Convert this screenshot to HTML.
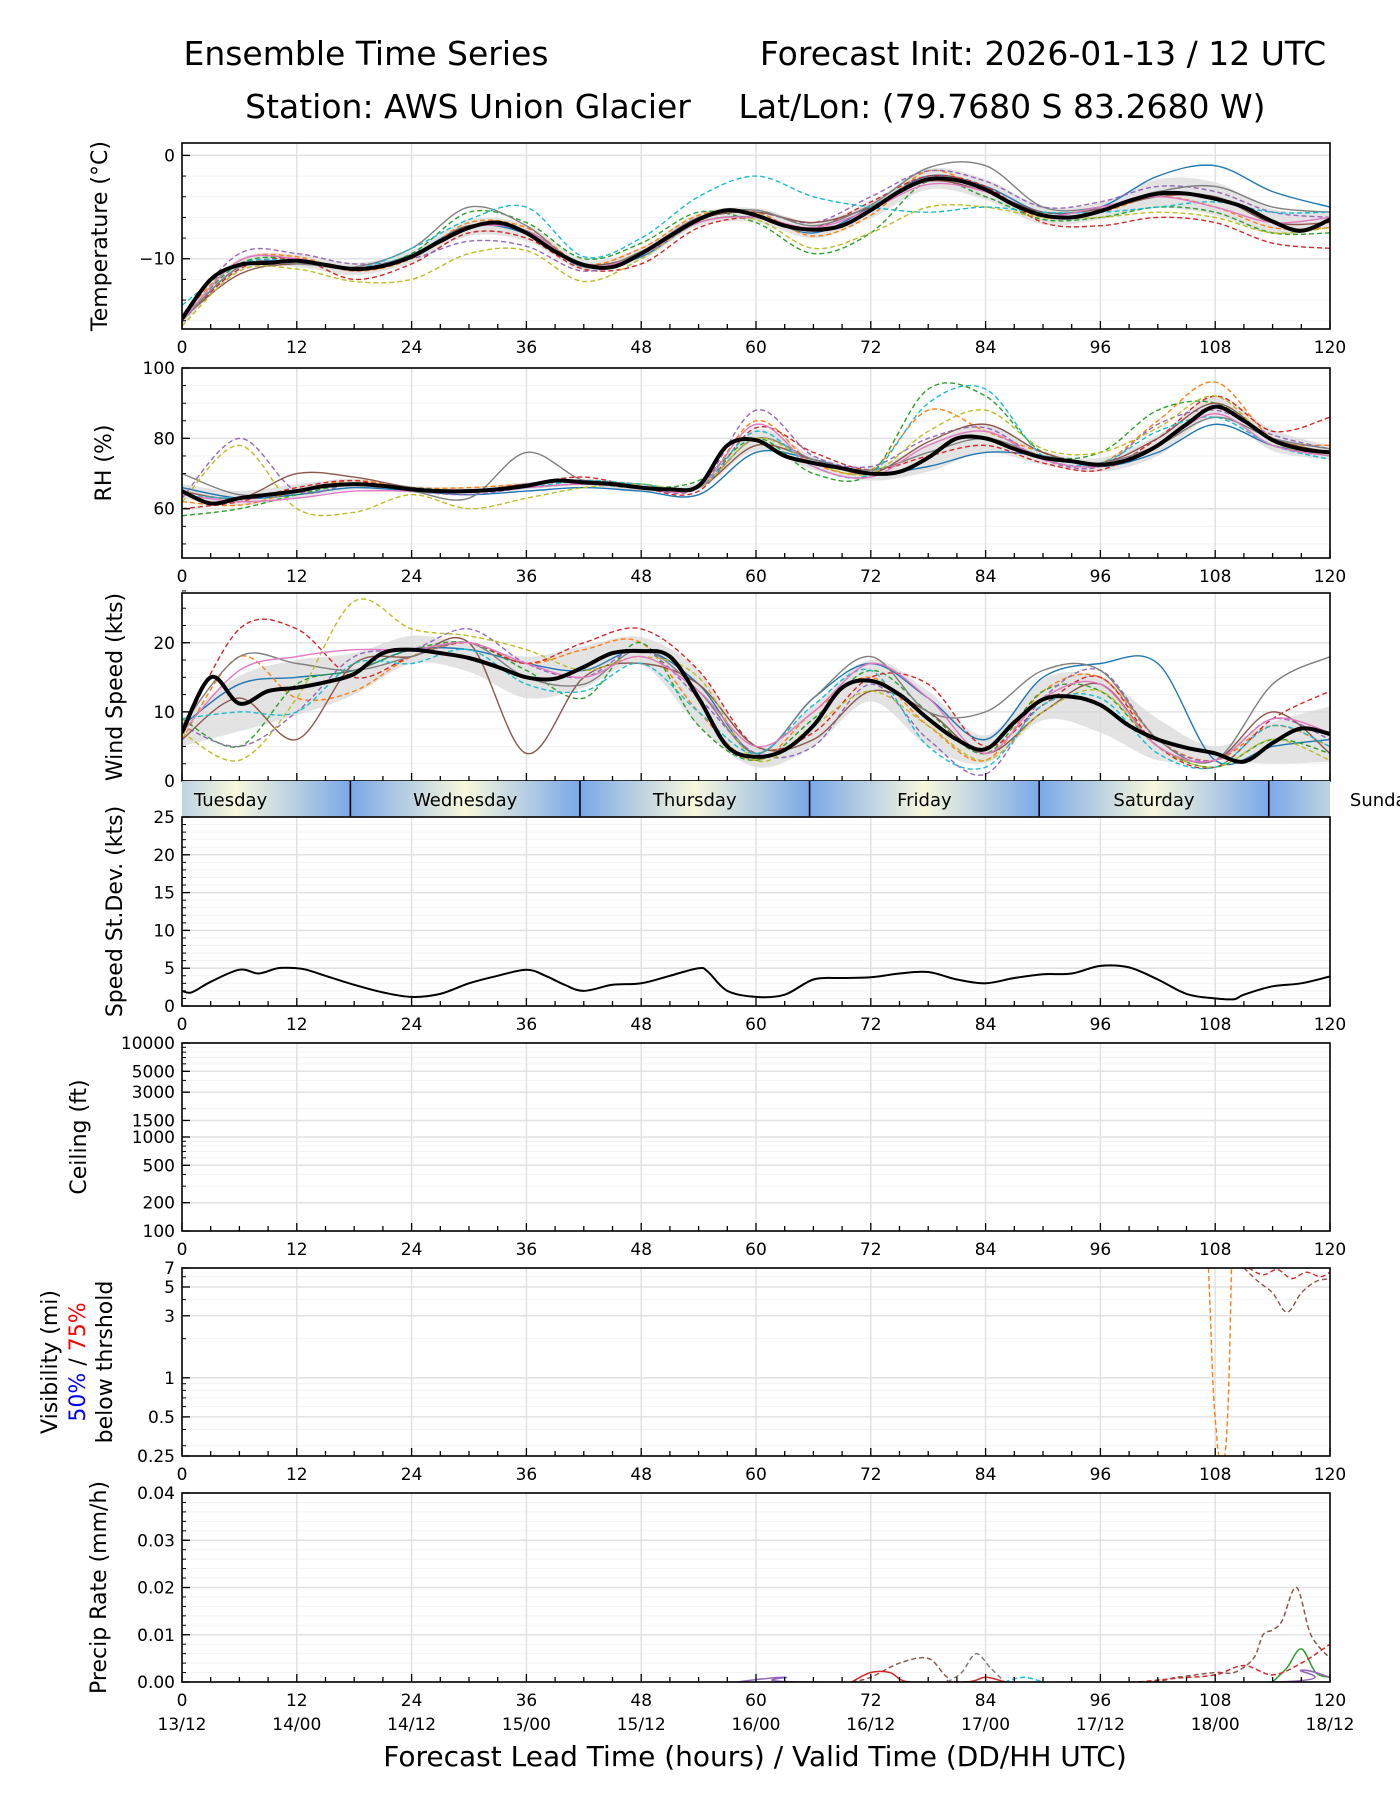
<!DOCTYPE html>
<html><head><meta charset="utf-8">
<style>
html,body{margin:0;padding:0;background:#fff;}
svg{display:block;font-family:"DejaVu Sans","Liberation Sans",sans-serif;}
</style></head>
<body>
<svg id="chart" width="1400" height="1800" viewBox="0 0 1400 1800" xmlns="http://www.w3.org/2000/svg">
<defs>
<linearGradient id="dayGrad" gradientUnits="userSpaceOnUse" x1="0" y1="0" x2="229.6" y2="0" spreadMethod="repeat">
<stop offset="0" stop-color="#f8f8dc"/>
<stop offset="0.5" stop-color="#7aa8e8"/>
<stop offset="1" stop-color="#f8f8dc"/>
</linearGradient>
</defs>
<text x="366" y="65" font-size="33" text-anchor="middle">Ensemble Time Series</text>
<text x="1043" y="65" font-size="33" text-anchor="middle">Forecast Init: 2026-01-13 / 12 UTC</text>
<text x="468" y="118" font-size="33" text-anchor="middle">Station: AWS Union Glacier</text>
<text x="1002" y="118" font-size="33" text-anchor="middle">Lat/Lon: (79.7680 S 83.2680 W)</text>
<g id="plots"></g>
<text x="755" y="1766" font-size="28" text-anchor="middle">Forecast Lead Time (hours) / Valid Time (DD/HH UTC)</text>
</svg>
<script>
const hours6 = [0,6,12,18,24,30,36,42,48,54,60,66,72,78,84,90,96,102,108,114,120];
const hours3 = [0,3,6,9,12,15,18,21,24,27,30,33,36,39,42,45,48,51,54,57,60,63,66,69,72,75,78,81,84,87,90,93,96,99,102,105,108,111,114,117,120];
const colors = ['#1f77b4','#ff7f0e','#2ca02c','#d62728','#9467bd','#8c564b','#7f7f7f','#bcbd22','#17becf','#e377c2'];
const dashed = [false,true,true,true,true,false,false,true,true,false];

const tempMean = [-15.8,-12,-10.6,-10.4,-10.2,-10.6,-11,-10.7,-9.8,-8.3,-7,-6.5,-7.5,-9.3,-10.6,-10.8,-9.5,-7.8,-6.2,-5.3,-5.8,-6.8,-7.2,-6.8,-5.3,-3.5,-2.3,-2.4,-3.3,-4.8,-5.8,-6,-5.4,-4.4,-3.7,-3.7,-4.2,-5,-6.4,-7.3,-6.2];
const tempSpread = [0.6,0.6,0.6,0.6,0.6,0.8,0.8,0.5,0.6,0.6,0.7,0.8,0.8,1.0,1.0,0.9,0.8,1.4,1.6,1.2,0.8];
const tempMembers = [
[-16,-10.8,-10.3,-11,-9.6,-6.8,-7.6,-10.8,-9.8,-6.5,-6,-7.5,-5,-2,-3,-5.5,-5,-2,-1,-3.5,-5],
[-15.5,-10.2,-9.8,-11.2,-10,-6.5,-7,-10.5,-9,-5.8,-5.5,-7.8,-5.8,-1.5,-3.5,-6,-5.5,-4,-5,-7,-7],
[-15.8,-10.5,-10,-11,-9.5,-5.5,-6.5,-10,-8.5,-5.5,-6.5,-9.5,-7.5,-2.5,-4,-6.2,-6,-5,-5.5,-7.5,-7.5],
[-16,-11,-10,-12,-10.5,-7.5,-8,-11,-10.5,-7,-6,-7,-4.5,-2,-3,-6.5,-6.8,-6,-6.5,-8.5,-9],
[-15.5,-9.5,-9.5,-10.5,-10,-8.3,-8.8,-11.2,-9.5,-6,-5.5,-6.5,-4,-1.5,-2.5,-5,-4.5,-3,-3.5,-5.5,-6],
[-15.8,-11.5,-10.5,-11,-9.8,-6.8,-7.3,-10.5,-9.5,-6.2,-5.5,-6.5,-5,-2.5,-3.5,-5.5,-5.2,-4,-4,-6.5,-6.5],
[-16,-10.8,-10.5,-10.8,-9,-5,-6.8,-10.8,-9.3,-6,-5.3,-6.8,-4.8,-1.2,-1,-5,-5,-3.5,-3,-5,-5.5],
[-16.5,-11.2,-11,-12.2,-12,-9.5,-9.2,-12.2,-10,-6.5,-6.2,-9,-7.5,-5,-5,-6,-6,-5.5,-6,-7.5,-7],
[-14.5,-10.5,-10.2,-11,-9,-6.2,-5,-9.8,-8,-4,-2,-4,-5,-5.5,-5,-5.5,-5.5,-5,-4.5,-5.5,-5.5],
[-16,-10.2,-10,-11,-9.8,-7,-7.3,-10.7,-9.6,-6.5,-6,-7,-5.2,-2.8,-3.5,-5.8,-5,-4,-5,-6.5,-6]];

const rhMean = [65,61.5,63,64,65,66.5,67,66.5,65.5,65,65,65.5,66.5,68,67.5,67,66,65.5,66.5,78,79.5,75,73,71.5,70,70.5,74.5,80,80,77,74.5,73.5,72.5,74,78,84,89,85,79.5,77,76];
const rhSpread = [2,2,2,1.5,1,1,1,1,1,1,3,2,2,4,4,2,2,3,3,3,2];
const rhMembers = [
[66,63,64,66,65,64,65,66,65,64,76,74,70,72,76,75,72,76,84,78,75],
[62,61,65,68,66,66,67,68,67,66,85,73,71,88,82,76,73,85,96,80,78],
[58,60,64,67,66,65,66,67,66,68,80,70,70,94,92,76,76,88,90,80,76],
[60,62,66,68,65,65,67,69,66,65,83,76,71,75,78,73,71,80,92,82,86],
[63,80,65,67,65,64,66,67,66,66,88,75,72,80,83,74,72,84,88,81,77],
[65,63,70,69,66,65,67,68,66,66,78,74,70,79,84,76,73,80,90,80,76],
[70,64,65,67,65,63,76,68,67,66,80,74,71,76,80,75,73,78,86,80,77],
[62,78,60,59,64,60,63,66,67,66,80,73,70,82,88,77,76,83,92,79,75],
[64,63,65,67,65,65,66,68,67,66,82,72,70,90,94,75,73,82,86,78,74],
[64,62,63,65,65,65,66,67,66,66,84,72,69,78,82,74,72,78,87,78,75]];

const windMean = [7,15,11.2,13,13.5,14.3,15.5,18.5,19,18.5,17.8,16.5,15,14.8,16.5,18.5,18.8,18,12,5,3.5,4.5,8,13.5,14.5,12.5,9,6,4.6,8.5,11.8,12.2,11,8,6,4.8,4,2.8,5.5,7.6,6.8];
const windSpread = [2,4,4,3,2,2,3,3,2,4,1.5,3,3,4,2,3,4,3,1,3,4];
const windMembers = [
[8,14,15,16,19,19,17,16,19,14,4,12,17,12,6,15,17,17,3,5,6],
[6,18,12,13,18,20,17,19,20,10,3,10,15,8,3,13,15,6,3,8,5],
[9,5,14,16,19,20,16,12,20,8,3,9,16,10,4,13,13,5,2,6,4],
[7,22,22,15,18,20,17,20,22,16,5,7,15,14,5,11,15,5,2,9,13],
[8,5,10,18,19,22,17,15,19,12,4,5,14,6,1,12,16,6,3,9,6],
[6,12,6,17,18,20,4,15,17,14,5,6,13,10,4,10,14,5,3,10,4],
[8,18,17,16,18,20,15,14,19,13,4,12,18,10,10,16,16,6,3,14,18],
[7,3,12,26,22,21,19,16,18,15,3,8,13,8,3,10,13,5,2,6,3],
[9,10,10,17,17,19,14,13,17,10,4,11,16,5,2,11,12,4,2,8,5],
[7,16,18,19,19,20,17,15,18,13,5,10,17,12,4,12,14,5,3,9,7]];

const sdHours = [0,1,3,6,8,10,12,13,15,18,21,24,27,30,33,36,38,40,42,45,48,51,54,55,57,60,63,66,69,72,75,78,81,84,87,90,93,96,99,102,105,108,110,111,114,117,120];
const sdValues = [2,1.8,3.2,4.8,4.3,5,5,4.8,4,2.8,1.8,1.2,1.6,3,4,4.8,4,2.8,2,2.8,3,4,5,4.5,2,1.2,1.5,3.5,3.7,3.8,4.3,4.5,3.5,3,3.7,4.2,4.3,5.3,5.1,3.5,1.6,1,0.9,1.5,2.6,3,3.9];

const visOrangeH = [107.3,107.5,107.8,108.1,108.4,109,109.4,109.7];
const visOrangeV = [7,3,0.8,0.4,0.25,0.25,0.8,7];
const visBrownH = [111,112.5,114,115.5,117,118.5,120];
const visBrownV = [7,5.5,4.5,3.2,4.5,5.5,5.8];
const visRedH = [111.5,113,114.5,116,117.5,119,120];
const visRedV = [7,6.2,6.8,5.8,6.5,6,6.5];

const prBrownH = [70,72,75,78,80,82,100,104,108,110,112,113,114,115,116.5,118,120];
const prBrownV = [0,0.001,0.004,0.005,0.001,0,0,0.001,0.002,0.002,0.005,0.01,0.011,0.013,0.02,0.01,0.005];
const prGrayH = [80,81.5,83,84.5,86];
const prGrayV = [0,0.002,0.006,0.003,0];
const prGreenH = [114,115.5,117,118.5,120];
const prGreenV = [0,0.003,0.007,0.002,0.001];
const prRedH = [100,104,108,111,114,117,120];
const prRedV = [0,0.0008,0.0015,0.0035,0.0015,0.004,0.008];
const prPurpleH = [58,63,66,114,117,120];
const prPurpleV = [0,0.001,0,0,0.0025,0.001];
const prRedSolidH = [70,72,74,76,82,84,86];
const prRedSolidV = [0,0.002,0.002,0,0,0.001,0];
const prCyanH = [86,88,90];
const prCyanV = [0,0.001,0];

const dayNames = ['Tuesday','Wednesday','Thursday','Friday','Saturday','Sunday'];
const dateLabels = ['13/12','14/00','14/12','15/00','15/12','16/00','16/12','17/00','17/12','18/00','18/12'];

const NS='http://www.w3.org/2000/svg';
const root=document.getElementById('plots');
const XL=182, XR=1330;
function X(h){return XL+h*(XR-XL)/120;}
function mk(tag,attrs,parent){const e=document.createElementNS(NS,tag);for(const k in attrs)e.setAttribute(k,attrs[k]);(parent||root).appendChild(e);return e;}

function linScale(lo,hi,top,bot){return v=>bot-(v-lo)/(hi-lo)*(bot-top);}
function logScale(lo,hi,top,bot){return v=>bot-(Math.log10(v)-Math.log10(lo))/(Math.log10(hi)-Math.log10(lo))*(bot-top);}

function smoothPath(hs,vs,Y){
  const p=hs.map((h,i)=>[X(h),Y(vs[i])]);
  let d='M'+p[0][0].toFixed(1)+','+p[0][1].toFixed(1);
  for(let i=0;i<p.length-1;i++){
    const p0=p[i-1]||p[i],p1=p[i],p2=p[i+1],p3=p[i+2]||p[i+1];
    const c1=[p1[0]+(p2[0]-p0[0])/6,p1[1]+(p2[1]-p0[1])/6];
    const c2=[p2[0]-(p3[0]-p1[0])/6,p2[1]-(p3[1]-p1[1])/6];
    d+=' C'+c1[0].toFixed(1)+','+c1[1].toFixed(1)+' '+c2[0].toFixed(1)+','+c2[1].toFixed(1)+' '+p2[0].toFixed(1)+','+p2[1].toFixed(1);
  }
  return d;
}

function panel(name,top,bot,Y,majors,labels,minors,ylabel,ylabX,xlabels){
  const g=mk('g',{});
  
  
  const clip=mk('clipPath',{id:'clip-'+name},g);
  mk('rect',{x:XL,y:top,width:XR-XL,height:bot-top},clip);
  minors.forEach(v=>{const y=Y(v);mk('line',{x1:XL,x2:XR,y1:y,y2:y,stroke:'#f2f2f2','stroke-width':1},g);});
  majors.forEach(v=>{const y=Y(v);mk('line',{x1:XL,x2:XR,y1:y,y2:y,stroke:'#e2e2e2','stroke-width':1.5},g);});
  for(let h=12;h<120;h+=12){mk('line',{x1:X(h),x2:X(h),y1:top,y2:bot,stroke:'#e2e2e2','stroke-width':1.5},g);}
  const content=mk('g',{'clip-path':'url(#clip-'+name+')'},g);
  for(let h=0;h<=120;h+=3){const L=(h%12==0)?8:5;mk('line',{x1:X(h),x2:X(h),y1:bot,y2:bot-L,stroke:'#000','stroke-width':1.3},g);}
  minors.forEach(v=>{const y=Y(v);mk('line',{x1:XL,x2:XL+4,y1:y,y2:y,stroke:'#000','stroke-width':1},g);});
  majors.forEach((v,i)=>{const y=Y(v);mk('line',{x1:XL,x2:XL+8,y1:y,y2:y,stroke:'#000','stroke-width':1.3},g);
    const t=mk('text',{x:XL-7,y:y+6,'font-size':17,'text-anchor':'end'},g);t.textContent=labels[i];
    
    });
  mk('rect',{x:XL,y:top,width:XR-XL,height:bot-top,fill:'none',stroke:'#000','stroke-width':1.6},g);
  if(xlabels){for(let h=0;h<=120;h+=12){const t=mk('text',{x:X(h),y:bot+24,'font-size':17,'text-anchor':'middle'},g);t.textContent=h;
    
    }}
  if(ylabel){const cy=(top+bot)/2;const t=mk('text',{x:ylabX,y:cy,'font-size':22,'text-anchor':'middle',transform:'rotate(-90 '+ylabX+' '+cy+')'},g);t.textContent=ylabel;
    
    }
  return content;
}

function ensemble(content,name,members,mean,spread,Y){
  const hs3=hours3;
  const hiV=hours6.map((h,i)=>mean[hours3.indexOf(h)]+spread[i]);
  const loV=hours6.map((h,i)=>mean[hours3.indexOf(h)]-spread[i]);
  const dHi=smoothPath(hours6,hiV,Y);
  const dLo=smoothPath(hours6.slice().reverse(),loV.slice().reverse(),Y).replace('M','L');
  const band=mk('path',{d:dHi+' '+dLo+' Z',fill:'#d9d9d9','fill-opacity':0.75,stroke:'none'},content);
  
  
  members.forEach((m,i)=>{
    const p=mk('path',{d:smoothPath(hours6,m,Y),fill:'none',stroke:colors[i],'stroke-width':1.4,'stroke-dasharray':dashed[i]?'5,3':'none'},content);
    
    
  });
  const mp=mk('path',{d:smoothPath(hs3,mean,Y),fill:'none',stroke:'#000','stroke-width':4},content);
  
  
}
function range(a,b,s){const r=[];for(let v=a;v<=b+1e-9;v+=s)r.push(+v.toFixed(6));return r;}

let Y=linScale(-16.8,1.2,143,329);
let c=panel('temperature',143,329,Y,[0,-10],['0','\u221210'],range(-16,0,2),'Temperature (\u00b0C)',107,true);
ensemble(c,'temperature',tempMembers,tempMean,tempSpread,Y);
Y=linScale(46,100,368,558);
c=panel('rh',368,558,Y,[60,80,100],['60','80','100'],range(50,100,5),'RH (%)',111,true);
ensemble(c,'rh',rhMembers,rhMean,rhSpread,Y);
Y=linScale(0,27.2,593,781);
c=panel('wind',593,781,Y,[0,10,20],['0','10','20'],range(0,27.5,2.5),'Wind Speed (kts)',122,false);
ensemble(c,'wind',windMembers,windMean,windSpread,Y);
(function(){
  const g=mk('g',{});
  
  
  mk('rect',{x:XL,y:781,width:XR-XL,height:36,fill:'url(#dayGrad)'},g);
  document.getElementById('dayGrad').setAttribute('gradientTransform','translate('+(X(5.6))+',0)');
  for(let k=0;k<5;k++){const x=X(17.6+24*k);mk('line',{x1:x,x2:x,y1:781,y2:817,stroke:'#000','stroke-width':1.6},g);}
  dayNames.forEach((d,k)=>{const h=5.6+24*k;const t=mk('text',{x:k==0?X(0)+12:X(h),y:806,'font-size':18,'text-anchor':k==0?'start':'middle'},g);t.textContent=d;
    
    });
})();
Y=linScale(0,25,817,1006);
c=panel('speed-stdev',817,1006,Y,[0,5,10,15,20,25],['0','5','10','15','20','25'],range(0,25,1),'Speed St.Dev. (kts)',122,true);
(function(){const p=mk('path',{d:smoothPath(sdHours,sdValues,Y),fill:'none',stroke:'#000','stroke-width':2},c);

})();
Y=logScale(100,10000,1043,1231);
const ceilMinor=[];[100,1000].forEach(b=>{for(let k=2;k<10;k++)ceilMinor.push(b*k);});
c=panel('ceiling',1043,1231,Y,[100,200,500,1000,1500,3000,5000,10000],['100','200','500','1000','1500','3000','5000','10000'],ceilMinor,'Ceiling (ft)',86,true);
Y=logScale(0.25,7,1268,1456);
c=panel('visibility',1268,1456,Y,[0.25,0.5,1,3,5,7],['0.25','0.5','1','3','5','7'],[0.3,0.4,0.6,0.7,0.8,0.9,2,4,6],null,0,true);
(function(){
  const cy=1362;
  const t1=mk('text',{x:57,y:cy,'font-size':22,'text-anchor':'middle',transform:'rotate(-90 57 '+cy+')'});t1.textContent='Visibility (mi)';
  
  
  const t2=mk('text',{x:85,y:cy,'font-size':22,'text-anchor':'middle',transform:'rotate(-90 85 '+cy+')'});
  
  
  const a=mk('tspan',{fill:'#0000ff'},t2);a.textContent='50%';
  const b=mk('tspan',{fill:'#000'},t2);b.textContent=' / ';
  const r=mk('tspan',{fill:'#ff0000'},t2);r.textContent='75%';
  const t3=mk('text',{x:112,y:cy,'font-size':22,'text-anchor':'middle',transform:'rotate(-90 112 '+cy+')'});t3.textContent='below thrshold';
  
  
  [[visOrangeH,visOrangeV,'#ff7f0e'],[visBrownH,visBrownV,'#8c564b'],[visRedH,visRedV,'#d62728']].forEach(s=>{
    const p=mk('path',{d:smoothPath(s[0],s[1],Y),fill:'none',stroke:s[2],'stroke-width':1.4,'stroke-dasharray':'5,3'},c);
    
    
  });
})();
Y=linScale(0,0.04,1493,1682);
c=panel('precip',1493,1682,Y,[0,0.01,0.02,0.03,0.04],['0.00','0.01','0.02','0.03','0.04'],range(0,0.04,0.002),'Precip Rate (mm/h)',106,true);
[[prBrownH,prBrownV,'#8c564b',true],[prGrayH,prGrayV,'#7f7f7f',true],[prGreenH,prGreenV,'#2ca02c',false],[prRedH,prRedV,'#d62728',true],[prPurpleH,prPurpleV,'#9467bd',false],[prRedSolidH,prRedSolidV,'#d62728',false],[prCyanH,prCyanV,'#17becf',true]].forEach(s=>{
  const p=mk('path',{d:smoothPath(s[0],s[1],Y),fill:'none',stroke:s[2],'stroke-width':1.5,'stroke-dasharray':s[3]?'5,3':'none'},c);
  
  
});
dateLabels.forEach((d,i)=>{const t=mk('text',{x:X(i*12),y:1730,'font-size':17,'text-anchor':'middle'});t.textContent=d;
  
  });
</script>
</body></html>
